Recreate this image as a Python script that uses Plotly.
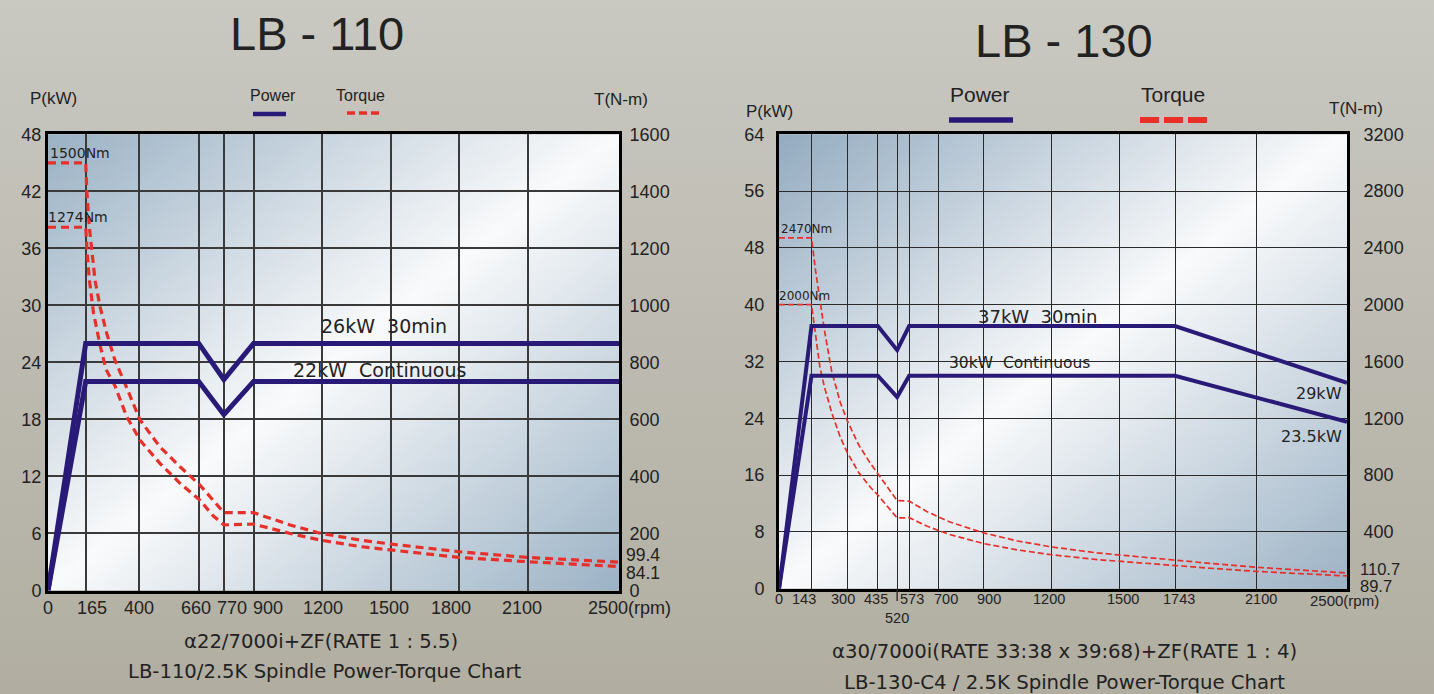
import base64
import plotly.graph_objects as go

W, H = 1434, 694

# ---------------- LB-110 data ----------------
L_pw_rpm = [0, 165, 660, 770, 900, 2500]
L_pw30_kw = [0, 26, 26, 22.2, 26, 26]
L_pwc_kw = [0, 22, 22, 18.5, 22, 22]

L_t30_rpm = [0, 165, 170, 181, 206, 228, 257, 293, 337, 403, 490, 578, 665, 723, 770, 900, 1060, 1191, 1366, 1500, 1800, 2100, 2500]
L_t30_nm = [1500, 1500, 1400, 1275, 1088, 995, 902, 808, 726, 598, 504, 434, 370, 317, 273, 273, 230, 201, 177, 163, 136, 116, 99.4]
L_tc_rpm = [0, 165, 172, 181, 199, 228, 254, 293, 345, 403, 490, 578, 665, 723, 770, 900, 1060, 1191, 1366, 1500, 1800, 2100, 2500]
L_tc_nm = [1274, 1274, 1182, 1090, 975, 860, 775, 718, 609, 527, 446, 376, 317, 262, 230, 233, 200, 177, 154, 142, 116, 101, 84.1]

L_xticks = [0, 165, 400, 660, 770, 900, 1200, 1500, 1800, 2100]
L_pticks = [0, 6, 12, 18, 24, 30, 36, 42, 48]
L_tticks = [0, 200, 400, 600, 800, 1000, 1200, 1400, 1600]

# ---------------- LB-130 data ----------------
R_pw_rpm = [0, 143, 435, 520, 573, 1743, 2500]
R_pw30_kw = [0, 37, 37, 33.6, 37, 37, 29]
R_pwc_kw = [0, 30, 30, 27, 30, 30, 23.5]

R_t_rpm = [0, 143, 160, 180, 200, 232, 270, 300, 350, 400, 435, 520, 573, 650, 750, 900, 1050, 1200, 1400, 1600, 1743, 1900, 2100, 2300, 2500]
R_t30_nm = [2470, 2470, 2250, 2030, 1820, 1530, 1310, 1185, 1015, 888, 812, 620, 617, 544, 471, 393, 336, 294, 252, 221, 203, 178, 151, 129, 110.7]
R_tc_nm = [2000, 2000, 1800, 1560, 1420, 1240, 1065, 960, 820, 718, 660, 498, 500, 441, 382, 318, 273, 239, 205, 179, 164, 144, 122, 105, 89.7]

R_xticks = [0, 143, 300, 435, 520, 573, 700, 900, 1200, 1500, 1743, 2100]
R_pticks = [0, 8, 16, 24, 32, 40, 48, 56, 64]
R_tticks = [400, 800, 1200, 1600, 2000, 2400, 2800, 3200]

# label nudges (pixels) so crowded x labels sit like the original
L_xshift = [0, 6, 0, -3, 8, 14, 1, -2, -8, -6]
R_xshift = [0, -7, -4, -1.5, 0, 3, 8, 6, -2.5, 3, 4, 4.5]

# ---------------- styles ----------------
NAVY = "#2a1a78"
RED = "#e8302a"
TXT = "#222222"
GRID_L = "#3a3a3a"
GRID_R = "#2a2a2a"
ARIAL = "Liberation Sans, Arial, sans-serif"
VERD = "DejaVu Sans, Verdana, sans-serif"


def px(x):
    return x / W


def py(y):
    return 1 - y / H


# plot areas in pixels
L_X0, L_X1, L_Y0, L_Y1 = 48, 619, 134.3, 590.5
R_X0, R_X1, R_Y0, R_Y1 = 779, 1347, 134.3, 588.7


def grad_svg(stops, x1, y1, x2, y2):
    s = "".join(f'<stop offset="{o}" stop-color="{c}"/>' for o, c in stops)
    svg = (f'<svg xmlns="http://www.w3.org/2000/svg" width="100" height="100" viewBox="0 0 100 100" '
           f'preserveAspectRatio="none"><defs><linearGradient id="g" x1="{x1}" y1="{y1}" x2="{x2}" y2="{y2}">'
           f'{s}</linearGradient></defs><rect width="100" height="100" fill="url(#g)"/></svg>')
    return "data:image/svg+xml;base64," + base64.b64encode(svg.encode()).decode()


paper_img = grad_svg([(0, "#c9c8c1"), (1, "#b1aea1")], 0, 0, 0, 1)
plot_img_L = grad_svg([(0, "#9ab1c4"), (0.5, "#f9fafb"), (1, "#9bb2c5")], 0, 0, 1, 1)
plot_img_R = grad_svg([(0, "#93abc0"), (0.5, "#f9fafb"), (1, "#9cb2c5")], 0, 0, 1, 1)

fig = go.Figure()

# ---- LB-110 traces ----
fig.add_trace(go.Scatter(x=L_t30_rpm, y=L_t30_nm, xaxis="x", yaxis="y", mode="lines",
                         line=dict(color=RED, width=3.2, dash="8px,5px"), hoverinfo="skip"))
fig.add_trace(go.Scatter(x=L_tc_rpm, y=L_tc_nm, xaxis="x", yaxis="y", mode="lines",
                         line=dict(color=RED, width=3.2, dash="8px,5px"), hoverinfo="skip"))
fig.add_trace(go.Scatter(x=L_pw_rpm, y=L_pw30_kw, xaxis="x", yaxis="y2", mode="lines",
                         line=dict(color=NAVY, width=5), hoverinfo="skip"))
fig.add_trace(go.Scatter(x=L_pw_rpm, y=L_pwc_kw, xaxis="x", yaxis="y2", mode="lines",
                         line=dict(color=NAVY, width=5), hoverinfo="skip"))

# ---- LB-130 traces ----
fig.add_trace(go.Scatter(x=R_t_rpm, y=R_t30_nm, xaxis="x2", yaxis="y3", mode="lines",
                         line=dict(color=RED, width=1.7, dash="6px,3px"), hoverinfo="skip"))
fig.add_trace(go.Scatter(x=R_t_rpm, y=R_tc_nm, xaxis="x2", yaxis="y3", mode="lines",
                         line=dict(color=RED, width=1.7, dash="6px,3px"), hoverinfo="skip"))
fig.add_trace(go.Scatter(x=R_pw_rpm, y=R_pw30_kw, xaxis="x2", yaxis="y4", mode="lines",
                         line=dict(color=NAVY, width=4), hoverinfo="skip"))
fig.add_trace(go.Scatter(x=R_pw_rpm, y=R_pwc_kw, xaxis="x2", yaxis="y4", mode="lines",
                         line=dict(color=NAVY, width=4), hoverinfo="skip"))

tick_hide = "rgba(0,0,0,0)"
common = dict(automargin=False, zeroline=False)

layout = dict(
    template="none",
    width=W, height=H, margin=dict(l=0, r=0, t=0, b=0, pad=0), autosize=False,
    paper_bgcolor="#bfbdb3", plot_bgcolor="rgba(0,0,0,0)",
    showlegend=False,
    xaxis=dict(domain=[px(L_X0), px(L_X1)], range=[0, 2500], anchor="y",
               tickvals=L_xticks, showticklabels=False,
               showgrid=True, gridcolor=GRID_L, gridwidth=2,
               showline=True, linecolor="black", linewidth=3, mirror=True, **common),
    yaxis=dict(domain=[py(L_Y1), py(L_Y0)], range=[0, 1600], anchor="x", side="right",
               tickvals=L_tticks, showgrid=False,
               showline=True, linecolor="black", linewidth=3, mirror=True,
               ticks="outside", ticklen=4, tickcolor=tick_hide,
               tickfont=dict(family=ARIAL, size=18, color=TXT), **common),
    yaxis2=dict(range=[0, 48], overlaying="y", anchor="x", side="left",
                tickvals=L_pticks, showgrid=True, gridcolor=GRID_L, gridwidth=2,
                showline=False, ticks="outside", ticklen=2, tickcolor=tick_hide,
                tickfont=dict(family=ARIAL, size=18, color=TXT), **common),
    xaxis2=dict(domain=[px(R_X0), px(R_X1)], range=[0, 2500], anchor="y3",
                tickvals=R_xticks, showticklabels=False,
                showgrid=True, gridcolor=GRID_R, gridwidth=1.4,
                showline=True, linecolor="black", linewidth=3, mirror=True, **common),
    yaxis3=dict(domain=[py(R_Y1), py(R_Y0)], range=[0, 3200], anchor="x2", side="right",
                tickvals=R_tticks, showgrid=False,
                showline=True, linecolor="black", linewidth=3, mirror=True,
                ticks="outside", ticklen=10, tickcolor=tick_hide,
                tickfont=dict(family=ARIAL, size=18, color=TXT), **common),
    yaxis4=dict(range=[0, 64], overlaying="y3", anchor="x2", side="left",
                tickvals=R_pticks, showgrid=True, gridcolor=GRID_R, gridwidth=1.4,
                showline=False, ticks="outside", ticklen=10, tickcolor=tick_hide,
                tickfont=dict(family=ARIAL, size=18, color=TXT), **common),
)
fig.update_layout(**layout)

images = [
    dict(source=paper_img, xref="paper", yref="paper", x=0, y=1, sizex=1, sizey=1,
         xanchor="left", yanchor="top", sizing="stretch", layer="below"),
    dict(source=plot_img_L, xref="paper", yref="paper", x=px(L_X0), y=py(L_Y0),
         sizex=px(L_X1 - L_X0), sizey=(L_Y1 - L_Y0) / H,
         xanchor="left", yanchor="top", sizing="stretch", layer="below"),
    dict(source=plot_img_R, xref="paper", yref="paper", x=px(R_X0), y=py(R_Y0),
         sizex=px(R_X1 - R_X0), sizey=(R_Y1 - R_Y0) / H,
         xanchor="left", yanchor="top", sizing="stretch", layer="below"),
]
fig.update_layout(images=images)

ann = []


def pa(text, x, y, size, family=ARIAL, xanchor="center", yanchor="middle"):
    ann.append(dict(text=text, x=px(x), y=py(y), xref="paper", yref="paper", showarrow=False,
                    xanchor=xanchor, yanchor=yanchor, font=dict(family=family, size=size, color=TXT)))


def da(text, x, y, xref, yref, size, family=ARIAL, xanchor="center", yanchor="middle", xshift=0, yshift=0):
    ann.append(dict(text=text, x=x, y=y, xref=xref, yref=yref, showarrow=False,
                    xanchor=xanchor, yanchor=yanchor, xshift=xshift, yshift=yshift,
                    font=dict(family=family, size=size, color=TXT)))


NB = "\u00a0"
# titles
pa("LB - 110", 317, 33, 47)
pa("LB - 130", 1064, 40, 47)
# axis titles
pa("P(kW)", 53.5, 98, 17)
pa("T(N-m)", 621, 100, 17)
pa("P(kW)", 769, 112, 17)
pa("T(N-m)", 1356, 109, 17)
# legends
pa("Power", 273, 96, 16)
pa("Torque", 360, 96, 16)
pa("Power", 980, 95, 21)
pa("Torque", 1173, 95, 21)
# subtitles
pa("α22/7000i+ZF(RATE 1 : 5.5)", 321, 641, 19.6, VERD)
pa("LB-110/2.5K Spindle Power-Torque Chart", 324, 671, 19.6, VERD)
pa("α30/7000i(RATE 33:38 x 39:68)+ZF(RATE 1 : 4)", 1064, 651, 19.7, VERD)
pa("LB-130-C4 / 2.5K Spindle Power-Torque Chart", 1064, 682, 19.7, VERD)

# x tick labels (placed on the axes' own scale)
for v, s in zip(L_xticks, L_xshift):
    ann.append(dict(text=str(v), x=v, y=py(608), xref="x", yref="paper", showarrow=False,
                    xanchor="center", yanchor="middle", xshift=s,
                    font=dict(family=ARIAL, size=18, color=TXT)))
for v, s in zip(R_xticks, R_xshift):
    yy = 618 if v == 520 else 599
    ann.append(dict(text=str(v), x=v, y=py(yy), xref="x2", yref="paper", showarrow=False,
                    xanchor="center", yanchor="middle", xshift=s,
                    font=dict(family=ARIAL, size=14.5, color=TXT)))

# LB-110 chart texts
da("26kW" + NB + NB + "30min", 1471, 27.8, "x", "y2", 19, VERD)
da("22kW" + NB + NB + "Continuous", 1451, 23.2, "x", "y2", 19, VERD)
da("1500Nm", 0, 1500, "x", "y", 14, VERD, xanchor="left", yanchor="bottom", xshift=0)
da("1274Nm", 0, 1274, "x", "y", 14, VERD, xanchor="left", yanchor="bottom", xshift=-2)
da("99.4", 2500, 99.4, "x", "y", 17.5, ARIAL, xanchor="left", xshift=5, yshift=7.5)
da("84.1", 2500, 84.1, "x", "y", 17.5, ARIAL, xanchor="left", xshift=5, yshift=-6.5)
ann.append(dict(text="2500(rpm)", x=2500, y=py(608), xref="x", yref="paper", showarrow=False,
                xanchor="left", yanchor="middle", xshift=-33, font=dict(family=ARIAL, size=18, color=TXT)))

# LB-130 chart texts
da("37kW" + NB + NB + "30min", 1136, 38.4, "x2", "y4", 18, VERD)
da("30kW" + NB + NB + "Continuous", 1059, 31.8, "x2", "y4", 15.5, VERD)
da("2470Nm", 0, 2470, "x2", "y3", 12, VERD, xanchor="left", yanchor="bottom", xshift=0)
da("2000Nm", 0, 2000, "x2", "y3", 12, VERD, xanchor="left", yanchor="bottom", xshift=-2)
da("29kW", 2500, 27.56, "x2", "y4", 16, VERD, xanchor="right", xshift=-3)
da("23.5kW", 2500, 21.5, "x2", "y4", 16, VERD, xanchor="right", xshift=-3)
da("110.7", 2500, 110.7, "x2", "y3", 16.5, ARIAL, xanchor="left", xshift=11, yshift=4)
da("89.7", 2500, 89.7, "x2", "y3", 16.5, ARIAL, xanchor="left", xshift=11, yshift=-10)
ann.append(dict(text="2500(rpm)", x=2500, y=py(600), xref="x2", yref="paper", showarrow=False,
                xanchor="left", yanchor="middle", xshift=-39, font=dict(family=ARIAL, size=15, color=TXT)))

fig.update_layout(annotations=ann)

shapes = [
    # legend keys
    dict(type="line", xref="paper", yref="paper", x0=px(253), x1=px(286), y0=py(114), y1=py(114),
         line=dict(color=NAVY, width=4.5)),
    dict(type="line", xref="paper", yref="paper", x0=px(347), x1=px(381), y0=py(113), y1=py(113),
         line=dict(color=RED, width=3.5, dash="8px,4px")),
    dict(type="line", xref="paper", yref="paper", x0=px(949), x1=px(1013), y0=py(120), y1=py(120),
         line=dict(color=NAVY, width=5.5)),
    dict(type="line", xref="paper", yref="paper", x0=px(1140), x1=px(1209), y0=py(120), y1=py(120),
         line=dict(color=RED, width=6, dash="19px,5px")),
    # tick mark at 520
    dict(type="line", xref="x2", yref="paper", x0=520, x1=520, y0=py(R_Y1), y1=py(601),
         line=dict(color=GRID_R, width=1.4)),
]
fig.update_layout(shapes=shapes)

fig.write_html("out.html", config={"displayModeBar": False},
               post_script="document.body.style.margin='0';document.body.style.overflow='hidden';")
